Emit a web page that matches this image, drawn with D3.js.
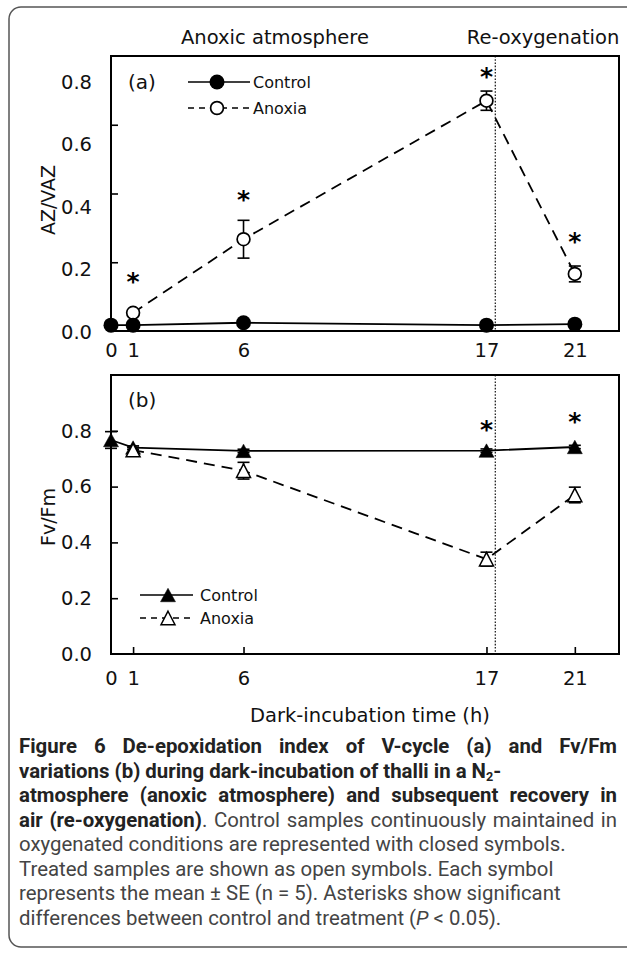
<!DOCTYPE html>
<html><head><meta charset="utf-8">
<script src="https://cdn.jsdelivr.net/npm/d3@7"></script>
<style>body{margin:0;background:#fff} svg{display:block}</style>
</head><body>
<svg id="c" width="627" height="955"></svg>
<script>
// ---------------- DATA ----------------
const xTickHours = [0, 1, 6, 17, 21];
const xTickLabels = ["0", "1", "6", "17", "21"];
const yTicksA = [0, 0.2, 0.4, 0.6, 0.8];
const yTickLabelsA = ["0.0", "0.2", "0.4", "0.6", "0.8"];
const yTicksB = [0, 0.2, 0.4, 0.6, 0.8];
const yTickLabelsB = ["0.0", "0.2", "0.4", "0.6", "0.8"];

const controlHours = [0, 1, 6, 17, 21];
const controlAZ = [0.017, 0.017, 0.024, 0.017, 0.020];
const controlAZse = [0.004, 0.004, 0.004, 0.004, 0.004];
const anoxiaHours = [1, 6, 17, 21];
const anoxiaAZ = [0.053, 0.267, 0.670, 0.166];
const anoxiaAZse = [0.006, 0.055, 0.028, 0.023];

const controlFv = [0.767, 0.740, 0.728, 0.729, 0.742];
const controlFvSe = [0.030, 0.006, 0.006, 0.006, 0.006];
const anoxiaFv = [0.731, 0.657, 0.340, 0.570];
const anoxiaFvSe = [0.010, 0.030, 0.025, 0.028];

const sigHoursA = [1, 6, 17, 21];
const sigLevelA = [0.157, 0.396, 0.753, 0.273];
const sigHoursB = [17, 21];
const sigLevelB = [0.821, 0.849];

const transitionHour = 17.4;
const seriesNames = ["Control", "Anoxia"];
const phaseNames = ["Anoxic atmosphere", "Re-oxygenation"];
const xTitle = "Dark-incubation time (h)";
const yTitleA = "AZ/VAZ";
const yTitleB = "Fv/Fm";

// ---------------- SETUP ----------------
const FONT = "'DejaVu Sans', Verdana, sans-serif";
const svg = d3.select("#c");
const x = d3.scaleLinear().domain([0, 23]).range([111, 619]);
const yA = d3.scaleLinear().domain([0, 0.8]).range([331, 56]);
const yALab = d3.scaleLinear().domain([0, 0.8]).range([332, 82]);
const yB = d3.scaleLinear().domain([0, 1]).range([654, 375]);

// outer rounded frame (right edge cut off)
svg.append("rect").attr("x", 9).attr("y", 7).attr("width", 660).attr("height", 940)
  .attr("rx", 12).attr("fill", "none").attr("stroke", "#555").attr("stroke-width", 1.5);

// phase labels
svg.append("text").attr("x", 275).attr("y", 44).attr("text-anchor", "middle")
  .style("font-family", FONT).style("font-size", "19.5px").attr("fill", "#111").text(phaseNames[0]);
svg.append("text").attr("x", 543).attr("y", 44).attr("text-anchor", "middle")
  .style("font-family", FONT).style("font-size", "19.5px").attr("fill", "#111").text(phaseNames[1]);

const tri = (w, h) => `M0,${-h/2}L${w/2},${h/2}L${-w/2},${h/2}Z`;

function drawPanel(opt) {
  const y = opt.y, g = svg.append("g");
  const [y0, y1] = [y.range()[0], y.range()[1]];
  // dotted transition line
  g.append("line").attr("x1", x(transitionHour)).attr("x2", x(transitionHour))
    .attr("y1", y1).attr("y2", y0).attr("stroke", "#222").attr("stroke-width", 1.3)
    .attr("stroke-dasharray", "1.6,1.6");

  // tick marks (inside)
  const yt = g.append("g").attr("transform", `translate(${x(0)},0)`)
    .call(d3.axisLeft(y).tickValues(opt.innerY).tickSize(-7).tickFormat(""));
  yt.select(".domain").remove();
  yt.selectAll("line").attr("stroke", "#000").attr("stroke-width", 1.6);
  const xt = g.append("g").attr("transform", `translate(0,${y0})`)
    .call(d3.axisBottom(x).tickValues(xTickHours.slice(1)).tickSize(-7).tickFormat(""));
  xt.select(".domain").remove();
  xt.selectAll("line").attr("stroke", "#000").attr("stroke-width", 1.6);

  // tick labels
  const yl = g.append("g").attr("transform", `translate(${x(0)},0)`)
    .call(d3.axisLeft(opt.yLab).tickValues(opt.yTicks).tickSize(0).tickPadding(19)
      .tickFormat((d, i) => opt.yTickLabels[i]));
  yl.select(".domain").remove();
  yl.selectAll("text").style("font-family", FONT).style("font-size", "19.5px").attr("fill", "#111");
  const xl = g.append("g").attr("transform", `translate(0,${y0})`)
    .call(d3.axisBottom(x).tickValues(xTickHours).tickSize(0).tickPadding(opt.xPad)
      .tickFormat((d, i) => xTickLabels[i]));
  xl.select(".domain").remove();
  xl.selectAll("text").style("font-family", FONT).style("font-size", "19.5px").attr("fill", "#111");

  // frame
  g.append("rect").attr("x", x(0)).attr("y", y1).attr("width", x(23) - x(0)).attr("height", y0 - y1)
    .attr("fill", "none").attr("stroke", "#000").attr("stroke-width", 2);

  // y title
  g.append("text").attr("transform", `translate(55,${opt.yTitleY}) rotate(-90)`)
    .attr("text-anchor", "middle").style("font-family", FONT).style("font-size", "19px")
    .attr("fill", "#111").text(opt.yTitle);

  // panel letter
  g.append("text").attr("x", 128).attr("y", opt.letterY).style("font-family", FONT)
    .style("font-size", "20px").attr("fill", "#111").text(opt.letter);

  const ctrl = controlHours.map((h, i) => ({h, v: opt.cV[i], se: opt.cSe[i]}));
  const anox = anoxiaHours.map((h, i) => ({h, v: opt.aV[i], se: opt.aSe[i]}));
  const line = d3.line().x(d => x(d.h)).y(d => y(d.v));

  function errBars(data) {
    const eg = g.append("g").attr("stroke", "#000").attr("stroke-width", 1.6);
    data.forEach(d => {
      eg.append("line").attr("x1", x(d.h)).attr("x2", x(d.h)).attr("y1", y(d.v - d.se)).attr("y2", y(d.v + d.se));
      [d.v - d.se, d.v + d.se].forEach(v => eg.append("line").attr("x1", x(d.h) - 6).attr("x2", x(d.h) + 6)
        .attr("y1", y(v)).attr("y2", y(v)));
    });
  }
  function marker(sel, filled) {
    if (opt.shape === "circle") {
      sel.append("circle").attr("r", filled ? 7.5 : 6.4)
        .attr("fill", filled ? "#000" : "#fff").attr("stroke", "#000").attr("stroke-width", filled ? 0 : 1.7);
    } else {
      sel.append("path").attr("d", tri(filled ? 15 : 14, 13.5))
        .attr("fill", filled ? "#000" : "#fff").attr("stroke", "#000").attr("stroke-width", filled ? 0.5 : 1.5);
    }
  }
  function series(data, filled) {
    errBars(data);
    g.append("path").datum(data).attr("d", line).attr("fill", "none").attr("stroke", "#000")
      .attr("stroke-width", 1.8).attr("stroke-dasharray", filled ? null : "11,7");
    data.forEach(d => marker(g.append("g").attr("transform", `translate(${x(d.h)},${y(d.v)})`), filled));
  }
  if (opt.controlOnTop) { series(anox, false); series(ctrl, true); }
  else { series(ctrl, true); series(anox, false); }

  // significance asterisks
  opt.sigH.forEach((h, i) => {
    g.append("text").attr("x", x(h)).attr("y", y(opt.sigL[i]) + 13).attr("text-anchor", "middle")
      .style("font-family", FONT).style("font-weight", "bold").style("font-size", "25px")
      .attr("fill", "#000").text("*");
  });

  // legend
  const L = opt.legend;
  [0, 1].forEach(k => {
    const ly = L.y[k];
    g.append("line").attr("x1", L.x1).attr("x2", L.x2).attr("y1", ly).attr("y2", ly)
      .attr("stroke", "#000").attr("stroke-width", 1.6).attr("stroke-dasharray", k ? "6,5" : null);
    marker(g.append("g").attr("transform", `translate(${L.mx},${ly})`), k === 0);
    g.append("text").attr("x", L.tx).attr("y", ly).attr("dy", "0.36em").style("font-family", FONT)
      .style("font-size", "16px").attr("fill", "#111").text(seriesNames[k]);
  });
}

drawPanel({
  y: yA, yLab: yALab, yTicks: yTicksA, yTickLabels: yTickLabelsA, innerY: [0.2, 0.4, 0.6],
  xPad: 12, yTitle: yTitleA, yTitleY: 200, letter: "(a)", letterY: 89, shape: "circle",
  cV: controlAZ, cSe: controlAZse, aV: anoxiaAZ, aSe: anoxiaAZse, controlOnTop: true,
  sigH: sigHoursA, sigL: sigLevelA,
  legend: {x1: 188, x2: 250, mx: 217, tx: 253, y: [82, 108]}
});
drawPanel({
  y: yB, yLab: yB, yTicks: yTicksB, yTickLabels: yTickLabelsB, innerY: [0.2, 0.4, 0.6, 0.8],
  xPad: 17, yTitle: yTitleB, yTitleY: 517, letter: "(b)", letterY: 407, shape: "tri",
  cV: controlFv, cSe: controlFvSe, aV: anoxiaFv, aSe: anoxiaFvSe, controlOnTop: false,
  sigH: sigHoursB, sigL: sigLevelB,
  legend: {x1: 140, x2: 193, mx: 168, tx: 200, y: [595, 618]}
});

// x title
svg.append("text").attr("x", 370).attr("y", 722).attr("text-anchor", "middle")
  .style("font-family", FONT).style("font-size", "19.5px").attr("fill", "#111").text(xTitle);

// ---------------- CAPTION ----------------
const capLines = [
  {segs: [["b", "Figure 6 De-epoxidation index of V-cycle (a) and Fv/Fm"]], justify: true},
  {segs: [["b", "variations (b) during dark-incubation of thalli in a N"], ["bs", "2"], ["b2", "-"]]},
  {segs: [["b", "atmosphere (anoxic atmosphere) and subsequent recovery in"]], justify: true},
  {segs: [["b", "air (re-oxygenation)"], ["r", ". Control samples continuously maintained in"]], justify: true},
  {segs: [["r", "oxygenated conditions are represented with closed symbols."]]},
  {segs: [["r", "Treated samples are shown as open symbols. Each symbol"]]},
  {segs: [["r", "represents the mean \u00b1 SE (n = 5). Asterisks show significant"]]},
  {segs: [["r", "differences between control and treatment ("], ["i", "P"], ["r", " < 0.05)."]]}
];
const CF = "Roboto, 'Open Sans', sans-serif";
const capX = 19, capW = 598, capY0 = 753, capDY = 24.5;
function buildLine(l, i, fs) {
  const t = svg.append("text").attr("x", capX).attr("y", capY0 + i * capDY)
    .style("font-family", CF).style("font-size", fs + "px");
  l.segs.forEach(([k, s]) => {
    const ts = t.append("tspan").text(s);
    if (k[0] === "b") ts.attr("font-weight", "bold").attr("fill", "#222");
    else ts.attr("fill", "#444");
    if (k === "i") ts.attr("font-style", "italic");
    if (k === "bs") ts.attr("font-size", (fs * 0.62) + "px").attr("dy", 3);
    if (k === "b2") ts.attr("dy", -3);
  });
  return t;
}
// fit font size to the reference width of line 6
let probe = buildLine(capLines[5], 5, 20);
let fs = Math.max(16, Math.min(20.5, 20 * 535 / probe.node().getComputedTextLength()));
probe.remove();
capLines.forEach((l, i) => {
  const t = buildLine(l, i, fs);
  if (l.justify) {
    const w = t.node().getComputedTextLength();
    const spaces = l.segs.map(s => s[1]).join("").split(" ").length - 1;
    if (w < capW) t.style("word-spacing", ((capW - w) / spaces) + "px");
    else t.attr("textLength", capW).attr("lengthAdjust", "spacingAndGlyphs");
  }
});
</script>
</body></html>
